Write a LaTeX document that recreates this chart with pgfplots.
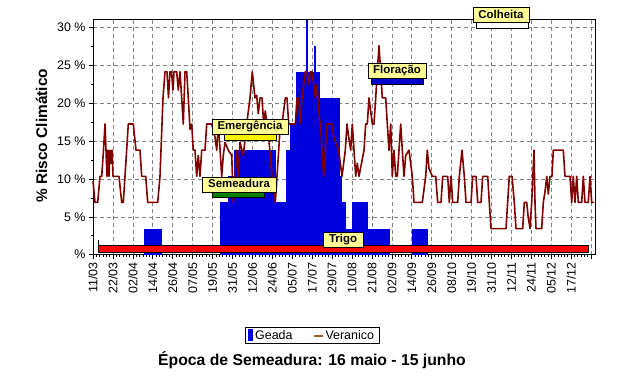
\documentclass[border=0pt]{standalone}
\usepackage{fontspec}
\setmainfont{Liberation Sans}
\usepackage{pgfplots}
\pgfplotsset{compat=1.18}
\definecolor{ver}{RGB}{128,0,0}
\definecolor{geada}{RGB}{0,0,220}
\definecolor{lblyellow}{RGB}{255,255,150}
\definecolor{legbrown}{RGB}{150,95,40}
\definecolor{semgreen}{RGB}{0,128,0}
\definecolor{florblue}{RGB}{0,0,210}
\tikzset{phasebox/.style={draw=black, fill=lblyellow, line width=0.8bp,
  font=\bfseries\fontsize{11.5}{13}\selectfont, inner xsep=2bp, inner ysep=0bp,
  minimum height=15bp, text height=8.5bp, text depth=2.2bp}}
\begin{document}
\begin{tikzpicture}
\useasboundingbox (0,0) rectangle (625bp,-389bp);
\begin{axis}[
 at={(93bp,-254.7bp)}, anchor=south west,
 scale only axis, width=502bp, height=235.7bp,
 xmin=0, xmax=502, ymin=0, ymax=31.1,
 clip=false,
 axis line style={line width=0.9bp},
 xtick={0,19.92,39.84,59.76,79.68,99.6,119.52,139.44,159.36,179.28,199.2,219.12,239.04,258.96,278.88,298.8,318.72,338.64,358.56,378.48,398.4,418.32,438.24,458.16,478.08,498},
 xticklabels={11/03,22/03,02/04,14/04,26/04,07/05,19/05,31/05,12/06,24/06,05/07,17/07,29/07,10/08,21/08,02/09,14/09,26/09,08/10,19/10,31/10,12/11,24/11,05/12,17/12,{}},
 ytick={0,5,10,15,20,25,30},
 yticklabels={\%,5 \%,10 \%,15 \%,20 \%,25 \%,30 \%},
 minor x tick num=5, minor y tick num=1,
 tick align=outside, tick pos=left,
 major tick length=4bp, minor tick length=2.5bp,
 tick style={black, line width=0.6bp},
 grid=major,
 major grid style={gray, line width=0.6bp, dash pattern=on 4bp off 3bp},
 xticklabel style={rotate=90, anchor=east, font=\fontsize{12.5}{14}\selectfont},
 yticklabel style={font=\fontsize{12.5}{14}\selectfont},
 legend style={at={(axis description cs:0.4363,-0.3428)}, anchor=center,
   draw=black, line width=0.8bp, font=\fontsize{12.5}{14}\selectfont,
   inner xsep=3bp, inner ysep=0.5bp, row sep=0pt,
   /tikz/every even column/.append style={column sep=18bp}},
 legend columns=2,
]
\addplot[ycomb, geada, line width=1.1bp, mark=none,
  legend image code/.code={\fill[geada] (0bp,-5bp) rectangle (4bp,6bp);}]
 coordinates {
 (52,3.45)(54,3.45)(56,3.45)(58,3.45)(60,3.45)(62,3.45)(64,3.45)(66,3.45)(68,3.45)
 (128,6.90)(130,6.90)(132,6.90)(134,6.90)
 (136,10.34)(138,10.34)(140,10.34)
 (142,13.79)(144,13.79)(146,13.79)(148,13.79)(150,13.79)(152,13.79)(154,13.79)(156,13.79)
 (158,13.79)(160,13.79)(162,13.79)(164,13.79)(166,13.79)(168,13.79)(170,13.79)(172,13.79)
 (174,13.79)(176,13.79)(178,13.79)(180,13.79)(182,13.79)
 (184,6.90)(186,6.90)(188,6.90)(190,6.90)(192,6.90)
 (194,13.79)(196,13.79)
 (198,17.24)(200,17.24)(202,17.24)
 (204,24.14)(206,24.14)(208,24.14)(210,24.14)(212,24.14)
 (214,31.03)
 (216,24.14)(218,24.14)(220,24.14)
 (222,27.59)
 (224,24.14)(226,24.14)
 (228,20.69)(230,20.69)(232,20.69)(234,20.69)(236,20.69)(238,20.69)(240,20.69)(242,20.69)(244,20.69)(246,20.69)
 (248,10.34)
 (250,6.90)(252,6.90)
 (254,3.45)(256,3.45)(258,3.45)
 (260,6.90)(262,6.90)(264,6.90)(266,6.90)(268,6.90)(270,6.90)(272,6.90)(274,6.90)
 (276,3.45)(278,3.45)(280,3.45)(282,3.45)(284,3.45)(286,3.45)(288,3.45)(290,3.45)(292,3.45)(294,3.45)(296,3.45)
 (320,3.45)(322,3.45)(324,3.45)(326,3.45)(328,3.45)(330,3.45)(332,3.45)(334,3.45)
 };
\addlegendentry{Geada}
\addplot[ver, line width=1.6bp, line join=round, mark=none,
  legend image code/.code={\draw[legbrown, line width=2bp] (0bp,0bp) -- (9bp,0bp);}]
 coordinates {
 (0,9.7)(2,6.9)(4.7,6.9)(7,10.34)(8.7,10.34)(10.5,13.79)(12,17.24)(13,13.79)(14,10.34)
 (15,13.79)(16,10.34)(17,13.79)(18,12.07)(19,13.79)(20,10.34)(26,10.34)(28.7,6.9)(30.3,6.9)
 (32,10.34)(35.3,17.24)(40.3,17.24)(43,13.79)(47,13.79)(48.7,10.34)(52.7,10.34)(54.7,6.9)
 (64.7,6.9)(67,10.34)(70,20.69)(72,24.14)(74,24.14)(75.5,20.69)(77,24.14)(78.5,24.14)
 (80,21.72)(81,24.14)(83.7,24.14)(85.3,21.72)(87,24.14)(88.7,20.69)(90.3,17.24)(92,24.14)
 (93.7,24.14)(95.3,20.69)(97,16.55)(98.7,17.24)(100.3,13.79)(102,13.79)(103.7,10.34)
 (105.3,13.1)(107,10.34)(108.7,13.79)(112,13.79)(113.7,17.24)(118.7,17.24)(122,15.52)
 (123.7,13.79)(125.3,17.24)(127,14)(128.7,10.34)(130.3,13.1)(132,14.83)(135.3,13.79)
 (138.7,13.1)(140.3,6.9)(142,10.34)(143.7,13.79)(145.3,10.34)(147,14.83)(150.3,13.1)
 (153.7,17.24)(157,20.69)(159.3,24.14)(162,20.69)(163.7,21.03)(165.3,18.62)(167,20.69)
 (169,20.69)(170.7,17.24)(172.3,18.97)(175.7,15.52)(179,10.34)(182.3,6.9)(184,10.34)
 (185.7,13.79)(187.3,17.24)(189,17.24)(192.3,20.69)(194,20.69)(195.7,17.24)(202.3,17.24)
 (204,20.69)(205.7,20.69)(207.3,17.24)(209,20.69)(212.3,24.14)(214,24.14)(215.7,22.41)
 (217.3,24.14)(219,24.14)(220.7,22.41)(222.3,20.69)(224,22.41)(225.7,18.97)(227.3,17.24)
 (229,13.79)(230.7,10.34)(232.3,13.79)(234,17.24)(239,17.24)(240.7,15.52)(245.7,13.79)
 (249,10.34)(252.3,13.79)(254,17.24)(255.7,15.52)(257.7,13.79)(259.3,17.24)(261,13.79)
 (262.7,10.34)(264.3,12.07)(266,10.34)(271,13.79)(272.7,17.24)(274.3,17.24)(276,20.69)
 (277.7,18.97)(279.3,17.24)(281,17.24)(282.7,20.69)(284.3,24.14)(286,27.59)(287.7,24.14)
 (289.3,20.69)(292.7,20.69)(294.3,17.24)(296,13.79)(297.7,17.24)(299.3,10.34)(301,13.79)
 (302.7,10.34)(304.3,10.34)(306,13.79)(307.7,17.24)(309.3,13.79)(311,10.34)(312.7,13.1)
 (316,13.79)(319.3,10.34)(321,6.9)(329.3,6.9)(332.7,10.34)(334.3,13.79)(336,11.4)
 (339.3,10.34)(342.7,10.34)(344.7,6.9)(348,6.9)(349.7,10.34)(354.7,10.34)(356.3,6.9)
 (358,10.34)(359.7,6.9)(364.7,6.9)(366.3,10.34)(369,13.79)(371.3,10.34)(373,6.9)(378,6.9)
 (379.7,10.34)(383,10.34)(384.7,6.9)(388,6.9)(389.7,10.34)(394.7,10.34)(396.3,6.9)
 (398,3.45)(413,3.45)(416.3,10.34)(419,10.34)(421.3,6.9)(423,3.45)(429.7,3.45)(431.3,6.9)
 (433.7,6.9)(435,5.2)(437,3.45)(438.7,6.9)(441,13.79)(442,6.9)(443,3.45)(448.7,3.45)
 (450.3,6.9)(452,8.3)(453.7,10.34)(455.3,8)(457,10.34)(459,10.34)(460.3,13.79)(470.3,13.79)
 (472,10.34)(477,10.34)(478.7,6.9)(480.3,10.34)(482,6.9)(483.7,10.34)(485.3,6.9)(488.7,6.9)
 (490.3,10.34)(492,6.9)(495.3,6.9)(497,10.34)(498.7,6.9)(501,6.9)
 };
\addlegendentry{Veranico}
% phase bars
\filldraw[fill=red, draw=black, line width=0.6bp] (axis cs:5,0.26) rectangle (axis cs:495,1.19);
\draw[black, line width=0.8bp] (axis cs:5,0.26) -- (axis cs:5,1.94);
\filldraw[fill=semgreen, draw=black, line width=0.6bp] (axis cs:119,7.61) rectangle (axis cs:171,8.27);
\filldraw[fill=yellow, draw=black, line width=0.6bp] (axis cs:131,15.13) rectangle (axis cs:183,15.92);
\filldraw[fill=florblue, draw=black, line width=0.6bp] (axis cs:278,22.52) rectangle (axis cs:330,23.31);
\filldraw[fill=white, draw=black, line width=0.6bp] (axis cs:383,29.91) rectangle (axis cs:435,30.70);
% phase labels
\node[phasebox, minimum width=40bp] at (axis cs:250,2.0) {Trigo};
\node[phasebox, minimum width=74bp] at (axis cs:146,9.26) {Semeadura};
\node[phasebox, minimum width=76bp] at (axis cs:157,16.91) {Emergência};
\node[phasebox, minimum width=58bp] at (axis cs:304,24.30) {Floração};
\node[phasebox, minimum width=56bp] at (axis cs:408,31.62) {Colheita};
\end{axis}
\node[rotate=90, font=\bfseries\fontsize{15.5}{17}\selectfont] at (41.5bp,-135.8bp) {\% Risco Climático};
\node[anchor=base, font=\bfseries\fontsize{15.8}{18}\selectfont] at (312bp,-365bp) {Época de Semeadura: 16 maio - 15 junho};
\end{tikzpicture}
\end{document}
